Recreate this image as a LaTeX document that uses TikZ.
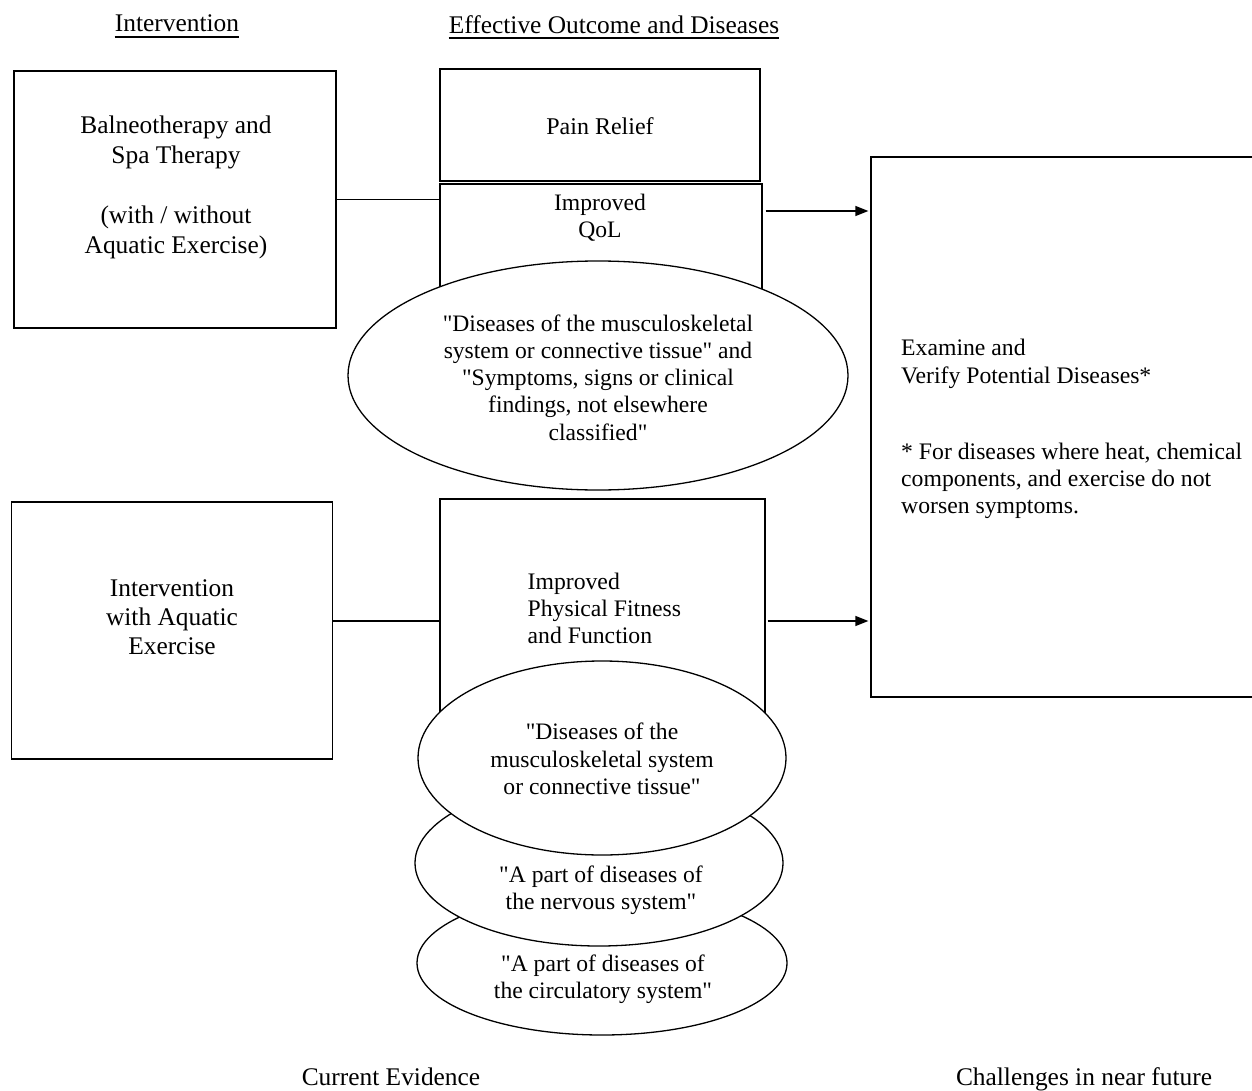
\documentclass[tikz,border=0pt]{standalone}
\usepackage{fontspec}
\setmainfont{Liberation Serif}[Ligatures=TeXOff]
\usetikzlibrary{shapes.geometric,arrows.meta}
\tikzset{
  x=1pt,y=-1pt,
  box/.style={draw,line width=1.3pt,rectangle,inner sep=0pt,fill=white},
  oval/.style={draw,line width=1.3pt,ellipse,inner sep=0pt,fill=white},
  txt/.style={inner sep=0pt,align=center,font=\fontsize{25.4}{27.5}\selectfont},
  mtxt/.style={inner sep=0pt,align=center,font=\fontsize{23.6}{27.3}\selectfont},
  ltxt/.style={inner sep=0pt,align=left,font=\fontsize{23.7}{28}\selectfont},
  link/.style={line width=1.3pt},
  arr/.style={line width=1.3pt,-{Triangle[length=13pt,width=10pt]}},
}
\begin{document}
\begin{tikzpicture}
\useasboundingbox (0,0) rectangle (1252,1091);
\clip (0,0) rectangle (1252,1091);
% titles
\node[txt,anchor=base] (t1) at (177,32) {Intervention};
\node[txt,anchor=base] (t2) at (614,34) {Effective Outcome and Diseases};
\draw[line width=1.3pt] ([yshift=-5pt]t1.base west) -- ([yshift=-5pt]t1.base east);
\draw[line width=1.3pt] ([yshift=-4pt]t2.base west) -- ([yshift=-4pt]t2.base east);
% left boxes
\node[box,minimum width=322,minimum height=257] (bal) at (175,199.5) {};
\node[txt,font=\fontsize{25.4}{30}\selectfont] (baltxt) at (176,187) {Balneotherapy and\\Spa Therapy\\[30pt](with / without\\Aquatic Exercise)};
\node[box,minimum width=321,minimum height=257] (int) at (172.3,630.5) {};
\node[txt,font=\fontsize{25.4}{29}\selectfont] (inttxt) at (172,617) {Intervention\\with Aquatic\\Exercise};
% middle upper
\node[box,minimum width=320,minimum height=112] (pain) at (600,125) {};
\node[mtxt,font=\fontsize{24}{27.3}\selectfont] (paintxt) at (600,126) {Pain Relief};
\node[box,minimum width=322,minimum height=180] (qolbox) at (601,274) {};
\node[mtxt] (qoltxt) at (600,217.5) {Improved\\QoL};
\node[oval,minimum width=500,minimum height=229] (ell1) at (598,375.5) {};
\node[mtxt] (ell1txt) at (598,377.5) {"Diseases of the musculoskeletal\\system or connective tissue" and\\"Symptoms, signs or clinical\\findings, not elsewhere\\classified"};
% middle lower
\node[box,minimum width=325,minimum height=260] (fitbox) at (602.5,629) {};
\node[ltxt,font=\fontsize{23.7}{27}\selectfont,anchor=west] (fittxt) at (527.5,608) {Improved\\Physical Fitness\\and Function};
\node[oval,minimum width=370,minimum height=144] (ell4) at (602,963) {};
\node[mtxt] (ell4txt) at (603,979.5) {"A part of diseases of\\the circulatory system"};
\node[oval,minimum width=368,minimum height=166] (ell3) at (599,863) {};
\node[mtxt] (ell3txt) at (601,890.5) {"A part of diseases of\\the nervous system"};
\node[oval,minimum width=368,minimum height=194] (ell2) at (602,758) {};
\node[mtxt] (ell2txt) at (602,759) {"Diseases of the\\musculoskeletal system\\or connective tissue"};
% right box
\node[box,minimum width=400,minimum height=540] (ex) at (1071,427) {};
\node[ltxt,anchor=west] (extxt1) at (901,363.5) {Examine and\\Verify Potential Diseases*};
\node[ltxt,font=\fontsize{23.7}{27}\selectfont,anchor=west] (extxt2) at (901,481) {* For diseases where heat, chemical\\components, and exercise do not\\worsen symptoms.};
% connectors
\draw[link] (bal.east) -- (bal.east -| qolbox.west);
\draw[link] ([yshift=9.5pt]int.east) -- ([yshift=9.5pt]int.east -| fitbox.west);
\draw[arr,shorten <=3pt,shorten >=2pt] ([yshift=6.5pt]qoltxt.center -| qolbox.east) -- ([yshift=6.5pt]qoltxt.center -| ex.west);
\draw[arr,shorten <=2pt,shorten >=2pt] ([yshift=-13pt]fittxt.center -| fitbox.east) -- ([yshift=-13pt]fittxt.center -| ex.west);
% bottom labels
\node[txt,anchor=base] (cur) at (391,1085) {Current Evidence};
\node[txt,anchor=base] (chal) at (1084,1085) {Challenges in near future};
\end{tikzpicture}
\end{document}
